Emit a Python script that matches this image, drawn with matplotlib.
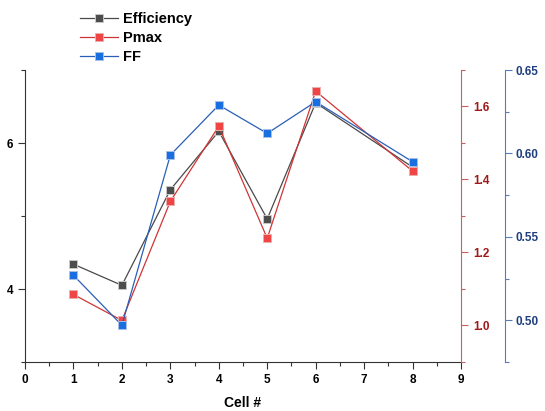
import matplotlib
matplotlib.use("Agg")
import matplotlib.pyplot as plt
from matplotlib.ticker import MultipleLocator, FormatStrFormatter
from matplotlib.lines import Line2D

plt.rcParams['font.family'] = ['Liberation Sans', 'DejaVu Sans']
plt.rcParams['font.weight'] = 'bold'

cells = [1, 2, 3, 4, 5, 6, 8]
efficiency = [4.34, 4.05, 5.36, 6.16, 4.96, 6.55, 5.67]
pmax = [1.085, 1.014, 1.34, 1.546, 1.239, 1.642, 1.423]
ff = [0.527, 0.497, 0.599, 0.629, 0.612, 0.631, 0.595]

fig = plt.figure(figsize=(5.45, 4.11), dpi=100)
ax = fig.add_axes([25/545, 1-362/411, (461-25)/545, (362-70)/411])
ax2 = ax.twinx()
ax3 = ax.twinx()

c_eff_m, c_eff_l = '#4d4d4d', '#4a4a4a'
c_p_m, c_p_l = '#f04545', '#d03535'
c_f_m, c_f_l = '#1a6fe0', '#2a5fb8'

ms = 5.5
mew = 0.7
ax.plot(cells, efficiency, '-', color=c_eff_l, lw=0.9, marker='s', ms=ms,
        mfc=c_eff_m, mec='#c8c8c8', mew=mew, zorder=3)
ax2.plot(cells, pmax, '-', color=c_p_l, lw=0.9, marker='s', ms=ms,
         mfc=c_p_m, mec='#e8b0b0', mew=mew, zorder=3)
ax3.plot(cells, ff, '-', color=c_f_l, lw=0.9, marker='s', ms=ms,
         mfc=c_f_m, mec='#a8c0e8', mew=mew, zorder=3)

ax.set_xlim(0, 9)
ax.set_ylim(3, 7)
ax2.set_ylim(0.9, 1.7)
ax3.set_ylim(0.475, 0.65)

ax.xaxis.set_major_locator(MultipleLocator(1))
ax.xaxis.set_minor_locator(MultipleLocator(0.5))
ax.yaxis.set_major_locator(MultipleLocator(2))
ax.yaxis.set_minor_locator(MultipleLocator(1))
ax2.yaxis.set_major_locator(MultipleLocator(0.2))
ax2.yaxis.set_minor_locator(MultipleLocator(0.1))
ax3.yaxis.set_major_locator(MultipleLocator(0.05))
ax3.yaxis.set_minor_locator(MultipleLocator(0.025))

ax.yaxis.set_major_formatter(FormatStrFormatter('%d'))
ax2.yaxis.set_major_formatter(FormatStrFormatter('%.1f'))
ax3.yaxis.set_major_formatter(FormatStrFormatter('%.2f'))

for a in (ax, ax2, ax3):
    a.spines['top'].set_visible(False)
ax.spines['right'].set_visible(False)
ax2.spines['left'].set_visible(False)
ax3.spines['left'].set_visible(False)
ax2.spines['bottom'].set_visible(False)
ax3.spines['bottom'].set_visible(False)
ax3.spines['right'].set_position(('outward', 44 * 72 / 100))

ax.spines['left'].set_color('#333333')
ax.spines['bottom'].set_color('#333333')
ax2.spines['right'].set_color('#c86060')
ax3.spines['right'].set_color('#5a7ab8')

ax.tick_params(axis='both', which='major', direction='out', length=5, width=0.8,
               colors='#333333', labelsize=8.5, labelcolor='black')
ax.tick_params(axis='both', which='minor', direction='out', length=3, width=0.8, colors='#333333')
ax2.tick_params(axis='y', which='major', direction='out', length=5, width=0.8,
                colors='#c86060', labelcolor='#a01818', labelsize=8.5)
ax2.tick_params(axis='y', which='minor', direction='out', length=3, width=0.8, colors='#c86060')
ax3.tick_params(axis='y', which='major', direction='out', length=5, width=0.8,
                colors='#5a7ab8', labelcolor='#1f3f80', labelsize=8.5, pad=2.5)
ax3.tick_params(axis='y', which='minor', direction='out', length=3, width=0.8, colors='#5a7ab8')

for a in (ax, ax2, ax3):
    for lab in a.get_xticklabels() + a.get_yticklabels():
        lab.set_fontweight('bold')

ax.set_xlabel('Cell #', fontsize=10, fontweight='bold', labelpad=7)

handles = [
    Line2D([], [], color=c_eff_l, lw=0.9, marker='s', ms=ms, mfc=c_eff_m, mec='#c8c8c8', mew=mew),
    Line2D([], [], color=c_p_l, lw=0.9, marker='s', ms=ms, mfc=c_p_m, mec='#e8b0b0', mew=mew),
    Line2D([], [], color=c_f_l, lw=0.9, marker='s', ms=ms, mfc=c_f_m, mec='#a8c0e8', mew=mew),
]
fig.legend(handles, ['Efficiency', 'Pmax', 'FF'], loc='upper left',
           bbox_to_anchor=(70/545, 1-2/411), frameon=False,
           prop={'weight': 'bold', 'size': 10.5}, handlelength=2.6,
           handletextpad=0.35, labelspacing=0.35, borderpad=0.2)

fig.savefig('out.png', dpi=100)
